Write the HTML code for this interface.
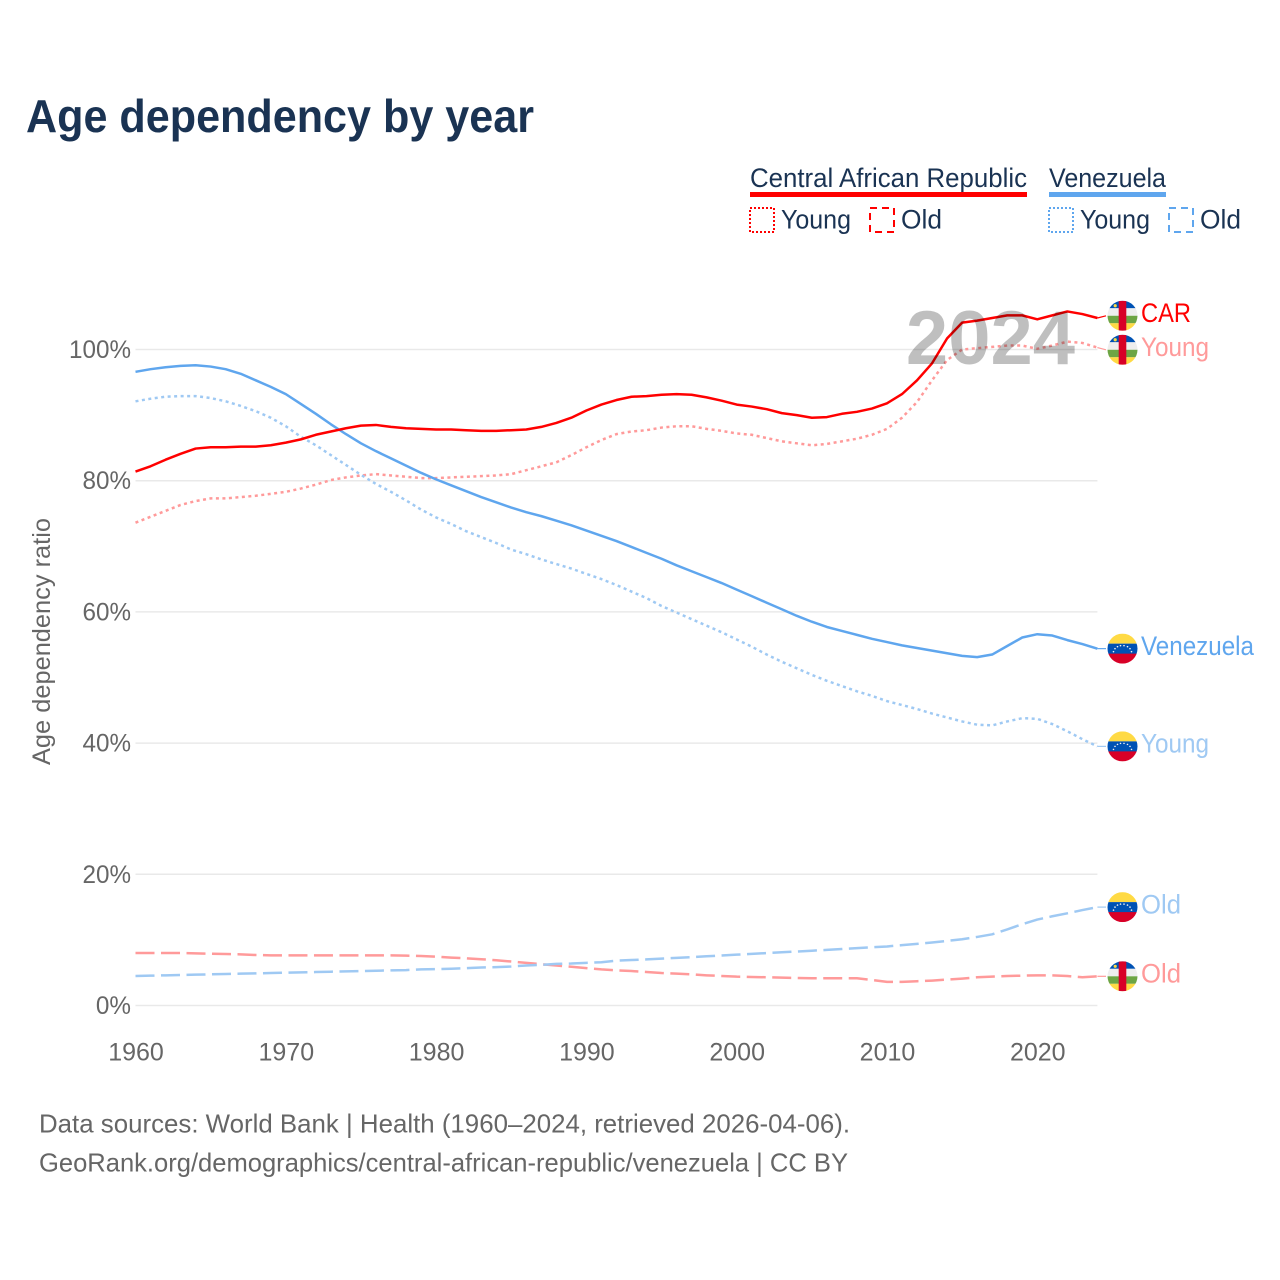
<!DOCTYPE html>
<html lang="en">
<head>
<meta charset="utf-8">
<title>Age dependency by year</title>
<style>
html,body{margin:0;padding:0;background:#fff;}
svg{display:block;font-family:"Liberation Sans",Arial,sans-serif;}
</style>
</head>
<body>
<svg id="chart" xmlns="http://www.w3.org/2000/svg" width="1280" height="1280" viewBox="0 0 1280 1280">
  <defs>
    <clipPath id="flag-clip"><circle cx="0" cy="0" r="15"/></clipPath>
    <g id="flag-car" clip-path="url(#flag-clip)">
      <rect x="-15" y="-15" width="30" height="7.5" fill="#0052b4"/>
      <rect x="-15" y="-7.5" width="30" height="7.5" fill="#eeeeee"/>
      <rect x="-15" y="0" width="30" height="7.5" fill="#6da544"/>
      <rect x="-15" y="7.5" width="30" height="7.5" fill="#ffda44"/>
      <rect x="-3.8" y="-15" width="7.6" height="30" fill="#d80027"/>
      <circle cx="-7.3" cy="-10" r="1.6" fill="#ffda44"/>
    </g>
    <g id="flag-ven" clip-path="url(#flag-clip)">
      <rect x="-15" y="-15" width="30" height="10" fill="#ffda44"/>
      <rect x="-15" y="-5" width="30" height="10.5" fill="#0052b4"/>
      <rect x="-15" y="5" width="30" height="10" fill="#d80027"/>
      <g fill="#f0f0f0">
        <circle cx="-9" cy="3" r="0.8"/><circle cx="-7.5" cy="0" r="0.8"/><circle cx="-5" cy="-2" r="0.8"/>
        <circle cx="-2" cy="-3" r="0.8"/><circle cx="1.5" cy="-3" r="0.8"/><circle cx="5" cy="-2" r="0.8"/>
        <circle cx="7.5" cy="0" r="0.8"/><circle cx="9" cy="3" r="0.8"/>
      </g>
    </g>
  </defs>

  <text x="26" y="132" font-size="46" font-weight="700" fill="#1a3353" textLength="508" lengthAdjust="spacingAndGlyphs">Age dependency by year</text>

  <g>
    <text x="750" y="187" font-size="27" fill="#1a3353" textLength="277" lengthAdjust="spacingAndGlyphs">Central African Republic</text>
    <rect x="750" y="192" width="277" height="5" fill="#ff0000"/>
    <rect x="750" y="208" width="24" height="24" fill="none" stroke="#ff0000" stroke-width="2" stroke-dasharray="2 2"/>
    <text x="781" y="228.5" font-size="27" fill="#1a3353" textLength="70" lengthAdjust="spacingAndGlyphs">Young</text>
    <rect x="870" y="208" width="24" height="24" fill="none" stroke="#ff0000" stroke-width="2" stroke-dasharray="7 5"/>
    <text x="901" y="228.5" font-size="27" fill="#1a3353" textLength="41" lengthAdjust="spacingAndGlyphs">Old</text>
    <text x="1049" y="187" font-size="27" fill="#1a3353" textLength="117" lengthAdjust="spacingAndGlyphs">Venezuela</text>
    <rect x="1049" y="192" width="117" height="5" fill="#5fa6ee"/>
    <rect x="1049" y="208" width="24" height="24" fill="none" stroke="#5fa6ee" stroke-width="2" stroke-dasharray="2 2"/>
    <text x="1080" y="228.5" font-size="27" fill="#1a3353" textLength="70" lengthAdjust="spacingAndGlyphs">Young</text>
    <rect x="1169" y="208" width="24" height="24" fill="none" stroke="#5fa6ee" stroke-width="2" stroke-dasharray="7 5"/>
    <text x="1200" y="228.5" font-size="27" fill="#1a3353" textLength="41" lengthAdjust="spacingAndGlyphs">Old</text>
  </g>

  <g id="grid"></g>
  <g id="y-ticks"></g>
  <g id="x-ticks"></g>
  <text transform="translate(50 641.5) rotate(-90)" text-anchor="middle" font-size="25" fill="#666666" textLength="247" lengthAdjust="spacingAndGlyphs">Age dependency ratio</text>

  <g id="series"></g>
  <g id="end-labels"></g>

  <text x="1075" y="364" text-anchor="end" font-size="76" font-weight="700" fill="#000000" fill-opacity="0.25">2024</text>

  <text x="39" y="1132.5" font-size="26" fill="#666666" textLength="811" lengthAdjust="spacingAndGlyphs">Data sources: World Bank | Health (1960–2024, retrieved 2026-04-06).</text>
  <text x="39" y="1171.5" font-size="26" fill="#666666" textLength="809" lengthAdjust="spacingAndGlyphs">GeoRank.org/demographics/central-african-republic/venezuela | CC BY</text>
</svg>
<script>
const years = [1960,1961,1962,1963,1964,1965,1966,1967,1968,1969,1970,1971,1972,1973,1974,1975,1976,1977,1978,1979,1980,1981,1982,1983,1984,1985,1986,1987,1988,1989,1990,1991,1992,1993,1994,1995,1996,1997,1998,1999,2000,2001,2002,2003,2004,2005,2006,2007,2008,2009,2010,2011,2012,2013,2014,2015,2016,2017,2018,2019,2020,2021,2022,2023,2024];
const xTickLabels = [1960,1970,1980,1990,2000,2010,2020];
const yTickLabels = [0,20,40,60,80,100];
const carTotal = [81.4,82.2,83.2,84.1,84.9,85.1,85.1,85.2,85.2,85.4,
  85.8,86.3,87.0,87.5,88.0,88.4,88.5,88.2,88.0,87.9,
  87.8,87.8,87.7,87.6,87.6,87.7,87.8,88.2,88.8,89.6,
  90.7,91.6,92.3,92.8,92.9,93.1,93.2,93.1,92.7,92.2,
  91.6,91.3,90.9,90.3,90.0,89.6,89.7,90.2,90.5,91.0,
  91.8,93.2,95.3,97.9,101.7,104.1,104.4,104.8,105.2,105.2,
  104.6,105.2,105.8,105.4,104.8];
const carYoung = [73.6,74.5,75.4,76.3,76.9,77.3,77.3,77.5,77.7,78.0,
  78.3,78.8,79.4,80.1,80.5,80.8,81.0,80.8,80.6,80.4,
  80.4,80.5,80.6,80.7,80.8,81.0,81.6,82.2,82.8,83.9,
  85.1,86.2,87.1,87.5,87.7,88.1,88.3,88.3,87.9,87.6,
  87.2,87.0,86.5,86.0,85.7,85.4,85.6,86.0,86.4,87.0,
  87.9,89.6,92.0,95.3,98.4,100.0,100.2,100.4,100.6,100.6,
  100.1,100.6,101.2,101.0,100.3];
const carOld = [8.0,8.0,8.0,8.0,7.95,7.9,7.85,7.8,7.7,7.65,
  7.65,7.65,7.65,7.65,7.65,7.65,7.65,7.65,7.6,7.55,
  7.45,7.3,7.2,7.05,6.9,6.7,6.5,6.3,6.1,5.9,
  5.7,5.5,5.36,5.25,5.1,4.95,4.85,4.75,4.6,4.5,
  4.4,4.35,4.3,4.25,4.2,4.15,4.15,4.15,4.15,3.9,
  3.6,3.6,3.7,3.8,3.95,4.1,4.3,4.4,4.5,4.55,
  4.6,4.6,4.5,4.3,4.45];
const venTotal = [96.6,97.0,97.3,97.5,97.6,97.4,97.0,96.3,95.3,94.3,
  93.2,91.7,90.2,88.6,87.1,85.7,84.5,83.4,82.3,81.2,
  80.2,79.3,78.4,77.5,76.7,75.9,75.2,74.6,73.9,73.2,
  72.4,71.6,70.8,69.9,69.0,68.1,67.1,66.2,65.3,64.4,
  63.4,62.4,61.4,60.4,59.4,58.5,57.7,57.1,56.5,55.9,
  55.4,54.9,54.5,54.1,53.7,53.3,53.1,53.5,54.8,56.1,
  56.6,56.4,55.7,55.1,54.4];
const venYoung = [92.1,92.5,92.8,92.9,92.9,92.6,92.1,91.4,90.6,89.6,
  88.3,86.7,85.4,83.9,82.4,80.9,79.5,78.3,77.0,75.6,
  74.4,73.4,72.3,71.4,70.5,69.5,68.8,68.0,67.3,66.6,
  65.8,65.0,64.1,63.1,62.1,60.9,59.9,58.9,57.9,56.9,
  55.8,54.7,53.5,52.4,51.4,50.4,49.5,48.7,47.9,47.2,
  46.4,45.8,45.2,44.5,43.9,43.3,42.8,42.7,43.3,43.8,
  43.7,42.9,41.8,40.6,39.5];
const venOld = [4.5,4.55,4.6,4.65,4.7,4.75,4.8,4.85,4.9,4.95,
  5.0,5.05,5.1,5.15,5.2,5.25,5.3,5.35,5.4,5.5,
  5.55,5.6,5.7,5.8,5.85,5.95,6.1,6.2,6.35,6.4,
  6.5,6.6,6.83,6.93,7.03,7.14,7.26,7.38,7.5,7.62,
  7.75,7.87,7.99,8.11,8.23,8.35,8.48,8.61,8.74,8.87,
  9.0,9.2,9.4,9.6,9.85,10.1,10.45,10.85,11.6,12.4,
  13.1,13.6,14.05,14.55,15.0];

const NS = 'http://www.w3.org/2000/svg';
const plotLeft = 135.5, plotRight = 1097.4, plotZero = 1005.5, plotHundred = 349.5;
function xScale(year) { return plotLeft + (year - years[0]) * (plotRight - plotLeft) / (years[years.length - 1] - years[0]); }
function yScale(value) { return plotZero + value * (plotHundred - plotZero) / 100; }
function make(tag, parent, attrs) {
  const el = document.createElementNS(NS, tag);
  for (const key in attrs) el.setAttribute(key, attrs[key]);
  parent.appendChild(el);
  return el;
}

const gridLayer = document.getElementById('grid');
const yTickLayer = document.getElementById('y-ticks');
yTickLabels.forEach(function (tick) {
  const line = make('line', gridLayer, {x1: plotLeft, x2: plotRight, y1: yScale(tick), y2: yScale(tick), stroke: '#e9e9e9', 'stroke-width': 1.5});
  
  
  const label = make('text', yTickLayer, {x: 131, y: yScale(tick) + 8.5, 'text-anchor': 'end', 'font-size': 25, fill: '#666666'});
  label.textContent = tick + '%';
  
  
  label.setAttribute('textLength', (label.getComputedTextLength() * 0.97).toFixed(1));
  label.setAttribute('lengthAdjust', 'spacingAndGlyphs');
});

const xTickLayer = document.getElementById('x-ticks');
xTickLabels.forEach(function (tick) {
  const label = make('text', xTickLayer, {x: xScale(tick) + 0.5, y: 1060.5, 'text-anchor': 'middle', 'font-size': 25, fill: '#666666'});
  label.textContent = String(tick);
  
  
});

const seriesDefs = [
  {key: 'car-old', values: carOld, color: '#ff9a9a', dash: '19 6.5', label: 'Old', flag: '#flag-car', width: 40},
  {key: 'venezuela-old', values: venOld, color: '#9fc9f3', dash: '19 6.5', label: 'Old', flag: '#flag-ven', width: 40},
  {key: 'car-young', values: carYoung, color: '#ff9a9a', dash: '3 3.5', label: 'Young', flag: '#flag-car', width: 68},
  {key: 'venezuela-young', values: venYoung, color: '#9fc9f3', dash: '3 3.5', label: 'Young', flag: '#flag-ven', width: 68},
  {key: 'venezuela-total', values: venTotal, color: '#5fa6ee', dash: '', label: 'Venezuela', flag: '#flag-ven', width: 113},
  {key: 'car-total', values: carTotal, color: '#ff0000', dash: '', label: 'CAR', flag: '#flag-car', width: 50}
];

const seriesLayer = document.getElementById('series');
const labelLayer = document.getElementById('end-labels');

seriesDefs.forEach(function (s) {
  const d = s.values.map(function (v, i) {
    return (i ? 'L' : 'M') + xScale(years[i]).toFixed(2) + ' ' + yScale(v).toFixed(2);
  }).join(' ');
  const path = make('path', seriesLayer, {d: d, fill: 'none', stroke: s.color, 'stroke-width': 2.5, 'stroke-linejoin': 'round'});
  if (s.dash) path.setAttribute('stroke-dasharray', s.dash);
  
  
  s.endY = yScale(s.values[s.values.length - 1]);
  s.labelY = s.endY;
});

// Spread end labels so that flags never overlap.
const ordered = seriesDefs.slice().sort(function (a, b) { return a.endY - b.endY; });
const minGap = 34;
for (let i = 1; i < ordered.length; i++) {
  const gap = ordered[i].labelY - ordered[i - 1].labelY;
  if (gap < minGap) {
    const shift = (minGap - gap) / 2;
    ordered[i - 1].labelY -= shift;
    ordered[i].labelY += shift;
  }
}

seriesDefs.forEach(function (s) {
  const connector = make('line', labelLayer, {x1: plotRight, y1: s.endY, x2: 1106, y2: s.labelY, stroke: s.color, 'stroke-width': 1.2});
  
  
  const flag = make('use', labelLayer, {href: s.flag, transform: 'translate(1122.5 ' + s.labelY.toFixed(2) + ')'});
  
  
  const text = make('text', labelLayer, {x: 1141, y: s.labelY + 6.3, 'font-size': 27, fill: s.color, textLength: s.width, lengthAdjust: 'spacingAndGlyphs'});
  text.textContent = s.label;
  
  
});
</script>
</body>
</html>
